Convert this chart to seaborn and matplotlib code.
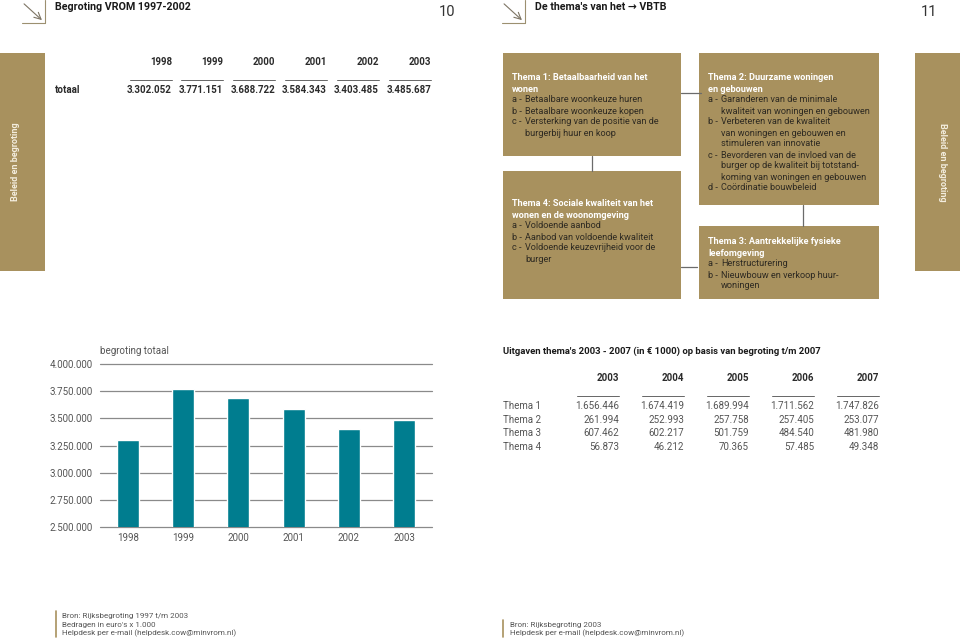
import numpy as np
import pandas as pd
import matplotlib
matplotlib.use('Agg')
import matplotlib.pyplot as plt
import seaborn as sns
from matplotlib.patches import Rectangle

# --- data ---
years = ['1998', '1999', '2000', '2001', '2002', '2003']
totaal = [3302052, 3771151, 3688722, 3584343, 3403485, 3485687]
y_ticks = [2500000, 2750000, 3000000, 3250000, 3500000, 3750000, 4000000]

thema_years = ['2003', '2004', '2005', '2006', '2007']
thema_rows = ['Thema 1', 'Thema 2', 'Thema 3', 'Thema 4']
thema1 = [1656446, 1674419, 1689994, 1711562, 1747826]
thema2 = [261994, 252993, 257758, 257405, 253077]
thema3 = [607462, 602217, 501759, 484540, 481980]
thema4 = [56873, 46212, 70365, 57485, 49348]

GOLD = '#A8915E'
TEAL = '#007D8F'
INK = '#2b2b2b'
FONT = ['Roboto', 'DejaVu Sans']


def nl(v):
    return f"{v:,}".replace(',', '.')


sns.set_theme(style='white')
plt.rcParams['font.family'] = FONT

fig = plt.figure(figsize=(9.6, 6.4), dpi=100)

# full-page canvas in pixel coordinates
bg = fig.add_axes([0, 0, 1, 1], zorder=0)
bg.set_xlim(0, 960)
bg.set_ylim(640, 0)
bg.axis('off')


def txt(x, y, s, **kw):
    kw.setdefault('color', INK)
    kw.setdefault('fontsize', 7)
    kw.setdefault('va', 'center')
    bg.text(x, y, s, **kw)


# --- headers ---
for x0, title, num, nx in [(22, 'Begroting VROM 1997-2002', '10', 455),
                           (502, "De thema's van het \u2192 VBTB", '11', 937)]:
    bg.plot([x0 + 23, x0 + 23], [0, 23], color='#9c9070', lw=0.8)
    bg.plot([x0, x0 + 23], [23, 23], color='#9c9070', lw=0.8)
    bg.annotate('', xy=(x0 + 22, 22), xytext=(x0, 2),
                arrowprops=dict(arrowstyle='->', color='#7d7464', lw=0.8))
    txt(x0 + 33, 7, title, fontsize=7.7, fontweight='bold', color='#1a1a1a')
    txt(nx, 12, num, fontsize=10.5, ha='right', color='#333333')

# --- side strips ---
bg.add_patch(Rectangle((0, 53), 45, 218, color=GOLD, lw=0))
bg.add_patch(Rectangle((915, 53), 45, 218, color=GOLD, lw=0))
txt(16, 162, 'Beleid en begroting', rotation=90, ha='center', color='#f4eedf',
    fontsize=6.5, fontweight='bold')
txt(942, 162, 'Beleid en begroting', rotation=-90, ha='center', color='#f4eedf',
    fontsize=6.5, fontweight='bold')

# --- top table ---
col_right = [172, 223, 275, 327, 379, 431]
txt(55, 90, 'totaal', fontsize=7, fontweight='bold')
for xr, yr, val in zip(col_right, years, totaal):
    txt(xr, 62, yr, ha='right', fontweight='bold')
    bg.plot([xr - 42, xr], [80, 80], color='#666666', lw=0.7)
    txt(xr, 90, nl(val), ha='right', fontweight='bold')

# --- theme boxes ---
bg.plot([681, 701], [93, 93], color='#6b6b6b', lw=0.9)
bg.plot([592, 592], [156, 171], color='#6b6b6b', lw=0.9)
bg.plot([803, 803], [205, 226], color='#6b6b6b', lw=0.9)
bg.plot([681, 697], [267, 267], color='#6b6b6b', lw=0.9)

boxes = [
    (503, 53, 178, 103, 78,
     ['Thema 1: Betaalbaarheid van het', 'wonen'],
     [('a - ', 'Betaalbare woonkeuze huren'),
      ('b - ', 'Betaalbare woonkeuze kopen'),
      ('c - ', 'Versterking van de positie van de'),
      ('', 'burgerbij huur en koop')]),
    (503, 171, 178, 128, 204,
     ['Thema 4: Sociale kwaliteit van het', 'wonen en de woonomgeving'],
     [('a - ', 'Voldoende aanbod'),
      ('b - ', 'Aanbod van voldoende kwaliteit'),
      ('c - ', 'Voldoende keuzevrijheid voor de'),
      ('', 'burger')]),
    (699, 53, 180, 152, 78,
     ['Thema 2: Duurzame woningen', 'en gebouwen'],
     [('a - ', 'Garanderen van de minimale'),
      ('', 'kwaliteit van woningen en gebouwen'),
      ('b - ', 'Verbeteren van de kwaliteit'),
      ('', 'van woningen en gebouwen en'),
      ('', 'stimuleren van innovatie'),
      ('c - ', 'Bevorderen van de invloed van de'),
      ('', 'burger op de kwaliteit bij totstand-'),
      ('', 'koming van woningen en gebouwen'),
      ('d - ', 'Co\u00f6rdinatie bouwbeleid')]),
    (699, 226, 180, 73, 242,
     ['Thema 3: Aantrekkelijke fysieke', 'leefomgeving'],
     [('a - ', 'Herstructurering'),
      ('b - ', 'Nieuwbouw en verkoop huur-'),
      ('', 'woningen')]),
]
for bx, by, bw, bh, ty, titles, items in boxes:
    bg.add_patch(Rectangle((bx, by), bw, bh, color=GOLD, lw=0))
    y = ty
    for t in titles:
        txt(bx + 9, y, t, color='white', fontweight='bold', fontsize=6.6)
        y += 11
    for pre, body in items:
        if pre:
            txt(bx + 9, y, pre, color='#2e2a22', fontsize=6.6)
        txt(bx + 22, y, body, color='#2e2a22', fontsize=6.6)
        y += 11

# --- bar chart ---
ax = fig.add_axes([100 / 960, 1 - 527 / 640, 332 / 960, 163 / 640], zorder=1)
ax.patch.set_alpha(0)
df = pd.DataFrame({'jaar': years, 'totaal': totaal})
sns.barplot(data=df, x='jaar', y='totaal', color=TEAL, saturation=1,
            width=0.4, ax=ax, zorder=3)
ax.set_ylim(2500000, 4000000)
ax.set_xlim(-0.5, 5.5)
ax.set_yticks(y_ticks)
ax.set_yticklabels([nl(v) for v in y_ticks], fontsize=7, color='#555555')
ax.tick_params(axis='y', length=0, pad=5)
ax.tick_params(axis='x', length=0, pad=4, labelsize=7, labelcolor='#555555')
ax.yaxis.grid(True, color='#8a8a8a', lw=0.9)
for gl in ax.get_ygridlines():
    gl.set_clip_on(False)
ax.set_axisbelow(True)
for s in ax.spines.values():
    s.set_visible(False)
ax.set_xlabel('')
ax.set_ylabel('')
txt(100, 351, 'begroting totaal', fontsize=7, color='#555555')

# --- right table ---
txt(503, 351, "Uitgaven thema's 2003 - 2007 (in \u20ac 1000) op basis van begroting t/m 2007",
    fontsize=6.8, fontweight='bold', color='#1a1a1a')
cols_r = [619, 684, 749, 814, 879]
for xr, yr in zip(cols_r, thema_years):
    txt(xr, 378, yr, ha='right', fontweight='bold')
    bg.plot([xr - 42, xr], [396, 396], color='#666666', lw=0.7)
for ry, name, vals in zip([406, 420, 433, 447], thema_rows,
                          [thema1, thema2, thema3, thema4]):
    txt(503, ry, name, color='#555555')
    for xr, v in zip(cols_r, vals):
        txt(xr, ry, nl(v), ha='right', color='#555555')

# --- footers ---
bg.plot([56, 56], [611, 637], color=GOLD, lw=1.2)
for yy, s in zip([616, 625, 633], ['Bron: Rijksbegroting 1997 t/m 2003',
                                   "Bedragen in euro's x 1.000",
                                   'Helpdesk per e-mail (helpdesk.cow@minvrom.nl)']):
    txt(62, yy, s, fontsize=5.8, color='#555555')
bg.plot([503, 503], [620, 637], color=GOLD, lw=1.2)
for yy, s in zip([625, 633], ['Bron: Rijksbegroting 2003',
                              'Helpdesk per e-mail (helpdesk.cow@minvrom.nl)']):
    txt(510, yy, s, fontsize=5.8, color='#555555')

fig.savefig('out.png', dpi=100)
